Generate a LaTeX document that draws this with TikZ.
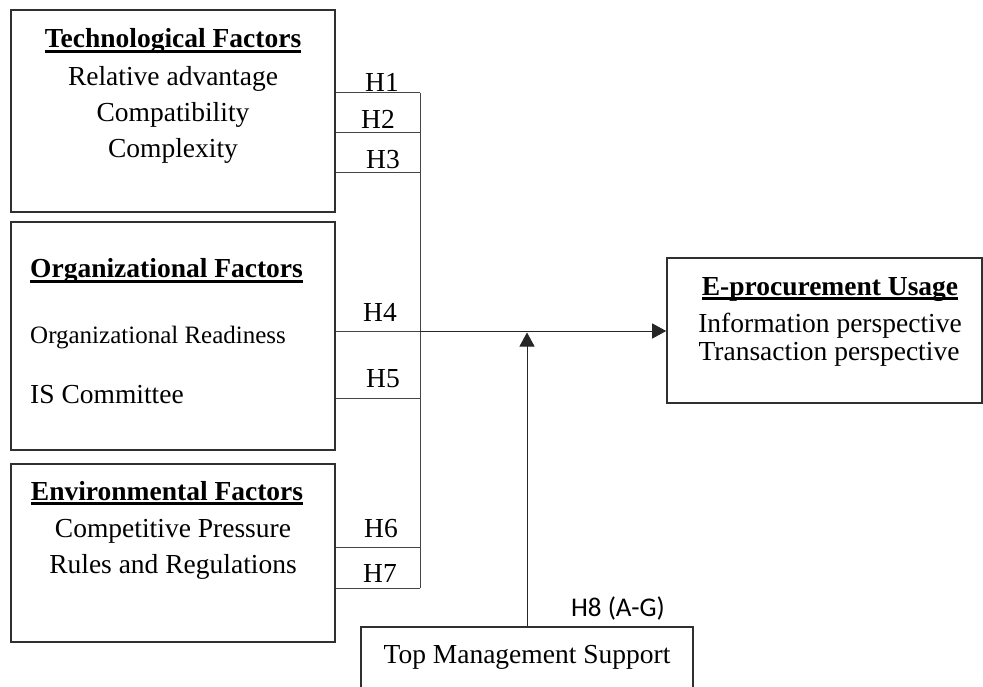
\documentclass[tikz,border=0pt]{standalone}
\usepackage{fontspec}
\setmainfont{Liberation Serif}
\newfontfamily\calfont{Carlito}
\usetikzlibrary{arrows.meta}
\definecolor{boxline}{HTML}{303030}
\definecolor{conline}{HTML}{454545}
\newcommand{\ttl}[1]{\setbox0\hbox{\textbf{#1}}\rlap{\rule[-4.8pt]{\wd0}{2.6pt}}\box0}
\tikzset{
  box/.style={draw=boxline, line width=1.6pt, inner sep=0pt},
  txt/.style={anchor=base, inner sep=0pt, font=\fontsize{27.5}{33}\selectfont},
  txtl/.style={anchor=base west, inner sep=0pt, font=\fontsize{27.5}{33}\selectfont},
  hlab/.style={anchor=base, inner sep=0pt, font=\fontsize{27.5}{33}\selectfont},
  con/.style={draw=conline, line width=1pt},
  arr/.style={draw=black!85, line width=0.9pt, -{Triangle[length=14pt,width=15pt]}}
}
\begin{document}
\begin{tikzpicture}[x=1pt,y=-1pt]
\useasboundingbox (0,0) rectangle (983,687);
\clip (0,0) rectangle (983,687);
% boxes
\node[box, minimum width=324pt, minimum height=202pt] (tech) at (173,111) {};
\node[box, minimum width=324pt, minimum height=228pt] (org) at (173,336) {};
\node[box, minimum width=324pt, minimum height=178pt] (env) at (173,553) {};
\node[box, minimum width=315pt, minimum height=145pt] (eproc) at (824.5,330.5) {};
\node[box, minimum width=332pt, minimum height=66pt] (tms) at (527,660) {};
% texts
\node[txt] (t0) at (173,48) {\ttl{Technological Factors}};
\node[txt] (t1) at (173,86) {Relative advantage};
\node[txt] (t2) at (173,122) {Compatibility};
\node[txt] (t3) at (173,158) {Complexity};
\node[txtl] (o0) at (30,278) {\ttl{Organizational Factors}};
\node[txtl, font=\fontsize{25}{30}\selectfont] (o1) at (30,343) {Organizational Readiness};
\node[txtl] (o2) at (30,403) {IS Committee};
\node[txt] (e0) at (167,500) {\ttl{Environmental Factors}};
\node[txt] (e1) at (173,537) {Competitive Pressure};
\node[txt] (e2) at (173,573) {Rules and Regulations};
\node[txt] (p0) at (830,295) {\ttl{E-procurement Usage}};
\node[txt] (p1) at (830,332) {Information perspective};
\node[txt] (p2) at (829,360) {Transaction perspective};
\node[txt] (m0) at (527,663) {Top Management Support};
% junction coordinates
\coordinate (j1) at (420,93);
\coordinate (j2) at (420,133);
\coordinate (j3) at (420,173);
\coordinate (j4) at (420,331);
\coordinate (j5) at (420,398);
\coordinate (j6) at (420,547);
\coordinate (j7) at (420,588);
\coordinate (mtip) at (527,332.5);
% connectors
\draw[con] (tech.east |- j1) -- (j1);
\draw[con] (tech.east |- j2) -- (j2);
\draw[con] (tech.east |- j3) -- (j3);
\draw[con] (org.east |- j4) -- (j4);
\draw[con] (org.east |- j5) -- (j5);
\draw[con] (env.east |- j6) -- (j6);
\draw[con] (env.east |- j7) -- (j7);
\draw[con] (j1) -- (j7);
\draw[arr] (j4) -- (eproc.west |- j4);
\draw[arr] (tms.north) -- (mtip);
% labels
\node[hlab] (h1) at (382,92) {H1};
\node[hlab] (h2) at (378,129) {H2};
\node[hlab] (h3) at (383,169) {H3};
\node[hlab] (h4) at (380,321) {H4};
\node[hlab] (h5) at (383,387) {H5};
\node[hlab] (h6) at (381,537) {H6};
\node[hlab] (h7) at (380,582) {H7};
\node[hlab, font=\calfont\fontsize{27}{32}\selectfont] (h8) at (618,616) {H8 (A-G)};
\end{tikzpicture}
\end{document}
